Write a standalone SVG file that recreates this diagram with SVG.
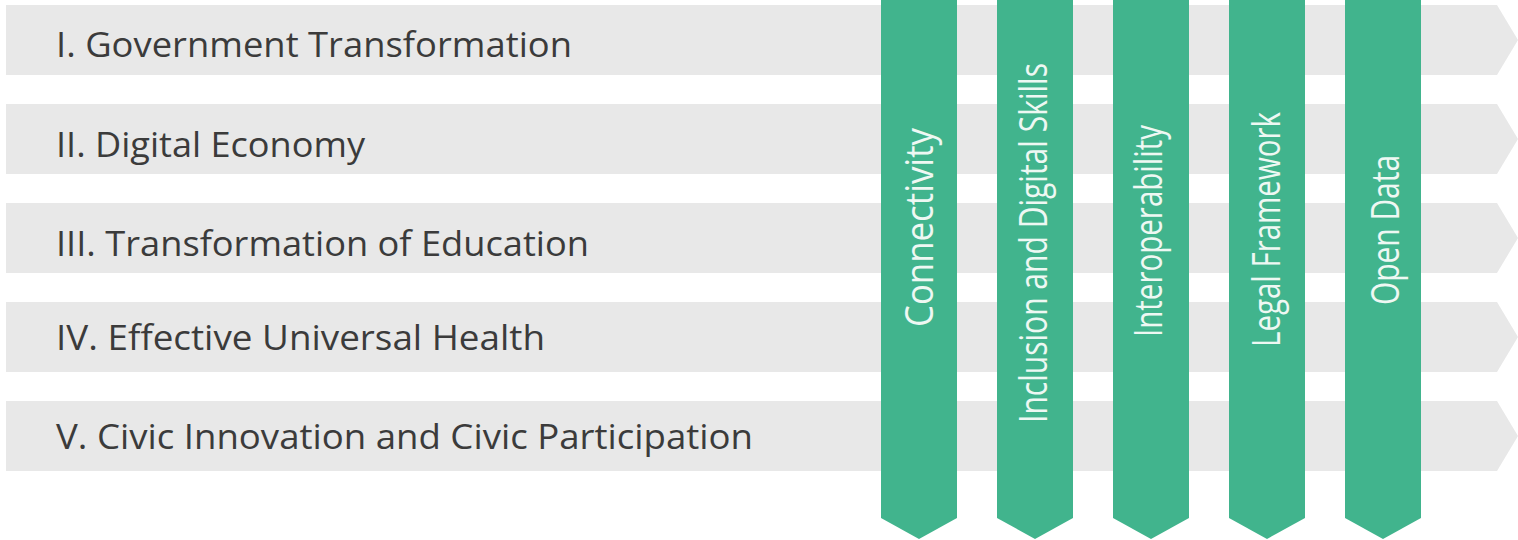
<svg xmlns="http://www.w3.org/2000/svg" width="1518" height="540" viewBox="0 0 1518 540">
  <style>
    .bar { fill: #e8e8e8; }
    .col { fill: #41b48d; }
    .lbl { font-family: "Open Sans", "Noto Sans", "Liberation Sans", sans-serif; font-size: 34px; fill: #3b3b3b; }
    .vlbl { font-family: "Open Sans", "Noto Sans", "Liberation Sans", sans-serif; font-size: 38px; fill: #eef8f3; }
  </style>
  <rect width="1518" height="540" fill="#ffffff"/>
  <g id="rows">
    <g id="row1">
      <polygon class="bar" points="6,5 1497,5 1518,40 1497,75 6,75"/>
      <text class="lbl" x="56" y="57" textLength="516" lengthAdjust="spacingAndGlyphs">I. Government Transformation</text>
    </g>
    <g id="row2">
      <polygon class="bar" points="6,104 1497,104 1518,139 1497,174 6,174"/>
      <text class="lbl" x="56" y="157" textLength="309" lengthAdjust="spacingAndGlyphs">II. Digital Economy</text>
    </g>
    <g id="row3">
      <polygon class="bar" points="6,203 1497,203 1518,238 1497,273 6,273"/>
      <text class="lbl" x="56" y="256" textLength="533" lengthAdjust="spacingAndGlyphs">III. Transformation of Education</text>
    </g>
    <g id="row4">
      <polygon class="bar" points="6,302 1497,302 1518,337 1497,372 6,372"/>
      <text class="lbl" x="56" y="350" textLength="489" lengthAdjust="spacingAndGlyphs">IV. Effective Universal Health</text>
    </g>
    <g id="row5">
      <polygon class="bar" points="6,401 1497,401 1518,436 1497,471 6,471"/>
      <text class="lbl" x="56" y="449" textLength="697" lengthAdjust="spacingAndGlyphs">V. Civic Innovation and Civic Participation</text>
    </g>
  </g>
  <g id="columns">
    <g id="col1">
      <polygon class="col" points="881,0 957,0 957,518 919,539 881,518"/>
      <text class="vlbl" transform="translate(933,327) rotate(-90)" textLength="199" lengthAdjust="spacingAndGlyphs">Connectivity</text>
    </g>
    <g id="col2">
      <polygon class="col" points="997,0 1073,0 1073,518 1035,539 997,518"/>
      <text class="vlbl" transform="translate(1047,423) rotate(-90)" textLength="360" lengthAdjust="spacingAndGlyphs">Inclusion and Digital Skills</text>
    </g>
    <g id="col3">
      <polygon class="col" points="1113,0 1189,0 1189,518 1151,539 1113,518"/>
      <text class="vlbl" transform="translate(1162,337) rotate(-90)" textLength="212" lengthAdjust="spacingAndGlyphs">Interoperability</text>
    </g>
    <g id="col4">
      <polygon class="col" points="1229,0 1305,0 1305,518 1267,539 1229,518"/>
      <text class="vlbl" transform="translate(1280,347) rotate(-90)" textLength="235" lengthAdjust="spacingAndGlyphs">Legal Framework</text>
    </g>
    <g id="col5">
      <polygon class="col" points="1345,0 1421,0 1421,518 1383,539 1345,518"/>
      <text class="vlbl" transform="translate(1399,305) rotate(-90)" textLength="150" lengthAdjust="spacingAndGlyphs">Open Data</text>
    </g>
  </g>
</svg>
